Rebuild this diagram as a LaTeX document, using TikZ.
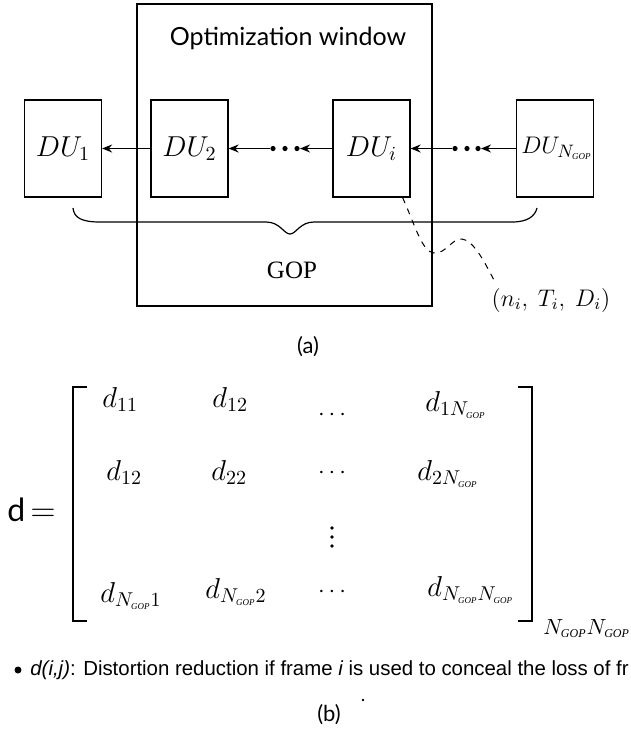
\documentclass[tikz,border=0pt]{standalone}
\usepackage{fontspec}
\setmainfont{Liberation Serif}
\setsansfont{Lato}
\newfontfamily\notefont{Liberation Sans}
\usetikzlibrary{arrows.meta}

\newcommand{\gp}[1][4.5]{\mbox{\fontsize{#1}{#1}\selectfont\itshape GOP}}

\tikzset{
  du/.style={draw, line width=0.6pt, minimum width=38.5pt, minimum height=48.5pt,
    inner sep=0pt, font=\fontsize{14}{16}\selectfont},
  link/.style={-{Stealth[length=5pt,width=4pt]}, line width=0.8pt},
  dotpt/.style={circle, fill, inner sep=0pt, minimum size=2.6pt},
  vdot/.style={circle, fill, inner sep=0pt, minimum size=1.8pt},
  entry/.style={anchor=base west, inner sep=0pt, font=\fontsize{14}{16}\selectfont},
  dotsnode/.style={inner sep=0pt, font=\fontsize{12}{14}\selectfont},
}

\begin{document}
\begin{tikzpicture}[x=0.5pt, y=-0.5pt]
  \useasboundingbox (0,0) rectangle (631,735);
  \clip (0,0) rectangle (631,735);
  % (a) optimization window over the GOP
  \node (win) [draw, line width=0.6pt, minimum width=147.5pt, minimum height=151pt, inner sep=0pt] at (284.5,155) {};
  \node (wlabel) [font=\sffamily\fontsize{12.5}{15}\selectfont] at (288,38) {Optimization window};

  \node (du1) [du] at (63,148.5) {$DU_1$};
  \node (du2) [du] at (189.5,148.5) {$DU_2$};
  \node (dui) [du] at (371.5,148.5) {$DU_i$};
  \node (duN) [du, font=\fontsize{13}{15}\selectfont] at (555,148.5) {\hspace*{2pt}$DU_{N_{\gp}}$};

  \node (p1) [dotpt] at (273,148.5) {};
  \node (p2) [dotpt] at (285,148.5) {};
  \node (p3) [dotpt] at (297,148.5) {};
  \node (q1) [dotpt] at (455,148.5) {};
  \node (q2) [dotpt] at (467,148.5) {};
  \node (q3) [dotpt] at (478,148.5) {};

  \draw [link] (du2.west) -- (du1.east);
  \draw [link] (dui.west) -- (p3);
  \draw [link] (p1) -- (du2.east);
  \draw [link] (duN.west) -- (q3);
  \draw [link] (q1) -- (dui.east);

  % brace under the DUs
  \draw [line width=0.6pt] (73,208) .. controls (74,218) and (82,222) .. (100,222) -- (266,222)
    .. controls (280,222) and (284,234) .. (290,234) .. controls (296,234) and (300,222) .. (314,222)
    -- (512,222) .. controls (528,222) and (535,216) .. (537,208);
  \node (gop) [font=\rmfamily\fontsize{12.5}{15}\selectfont] at (292,270) {GOP};

  \node (tuple) [font=\fontsize{11.5}{14}\selectfont] at (551,300) {$(n_i,\ T_i,\ D_i)$};
  \coordinate (tail) at (495,282);
  \draw [dashed, line width=0.5pt] ([xshift=-4pt]dui.south east) .. controls (415,225) and (422,252) .. (434,253)
    .. controls (446,254) and (452,238) .. (462,239) .. controls (474,240) and (486,265) .. (tail);

  \node (capa) [font=\sffamily\fontsize{11}{13}\selectfont] at (308,347) {(a)};

  % (b) distortion matrix
  \node (lhs) [font=\fontsize{16}{18}\selectfont] at (31.5,510) {{\sffamily d}\,$=$};
  \draw [line width=0.6pt] (87,387) -- (73,387) -- (73,621) -- (87,621);
  \draw [line width=0.6pt] (518,387) -- (532,387) -- (532,621) -- (518,621);

  \node (d11) [entry] at (102,407) {$d_{11}$};
  \node (d12) [entry] at (212,407) {$d_{12}$};
  \node (c1) [dotsnode] at (332,415) {$\cdots$};
  \node (d1n) [entry] at (425,411) {$d_{1N_{\gp}}$};

  \node (d21) [entry] at (106,480) {$d_{12}$};
  \node (d22) [entry] at (211,480) {$d_{22}$};
  \node (c2) [dotsnode] at (332,473) {$\cdots$};
  \node (d2n) [entry] at (417,480) {$d_{2N_{\gp}}$};

  % vertical dots
  \node (v1) [vdot] at (332,528) {};
  \node (v2) [vdot] at (332,537) {};
  \node (v3) [vdot] at (332,546) {};

  \node (dn1) [entry] at (100,602) {$d_{N_{\gp}1}$};
  \node (dn2) [entry] at (205,598) {$d_{N_{\gp}2}$};
  \node (c4) [dotsnode] at (332,592) {$\cdots$};
  \node (dnn) [entry] at (427,596) {$d_{N_{\gp}N_{\gp}}$};

  \node (msize) [anchor=base west, inner sep=0pt, font=\fontsize{10.5}{12}\selectfont] at (543,634) {$N_{\gp[6]}N_{\gp[6]}$};

  \node (bullet) [circle, fill, inner sep=0pt, minimum size=3.5pt] at (18,670) {};
  \node (note) [anchor=west, inner sep=0pt, font=\notefont\fontsize{10.2}{12}\selectfont] at (30,670)
    {{\itshape d(i,j)}: Distortion reduction if frame {\itshape i} is used to conceal the loss of fr};
  \node (capb) [font=\sffamily\fontsize{11}{13}\selectfont] at (329,715) {(b)};
  \fill (363,700) circle (0.7pt);
\end{tikzpicture}
\end{document}
